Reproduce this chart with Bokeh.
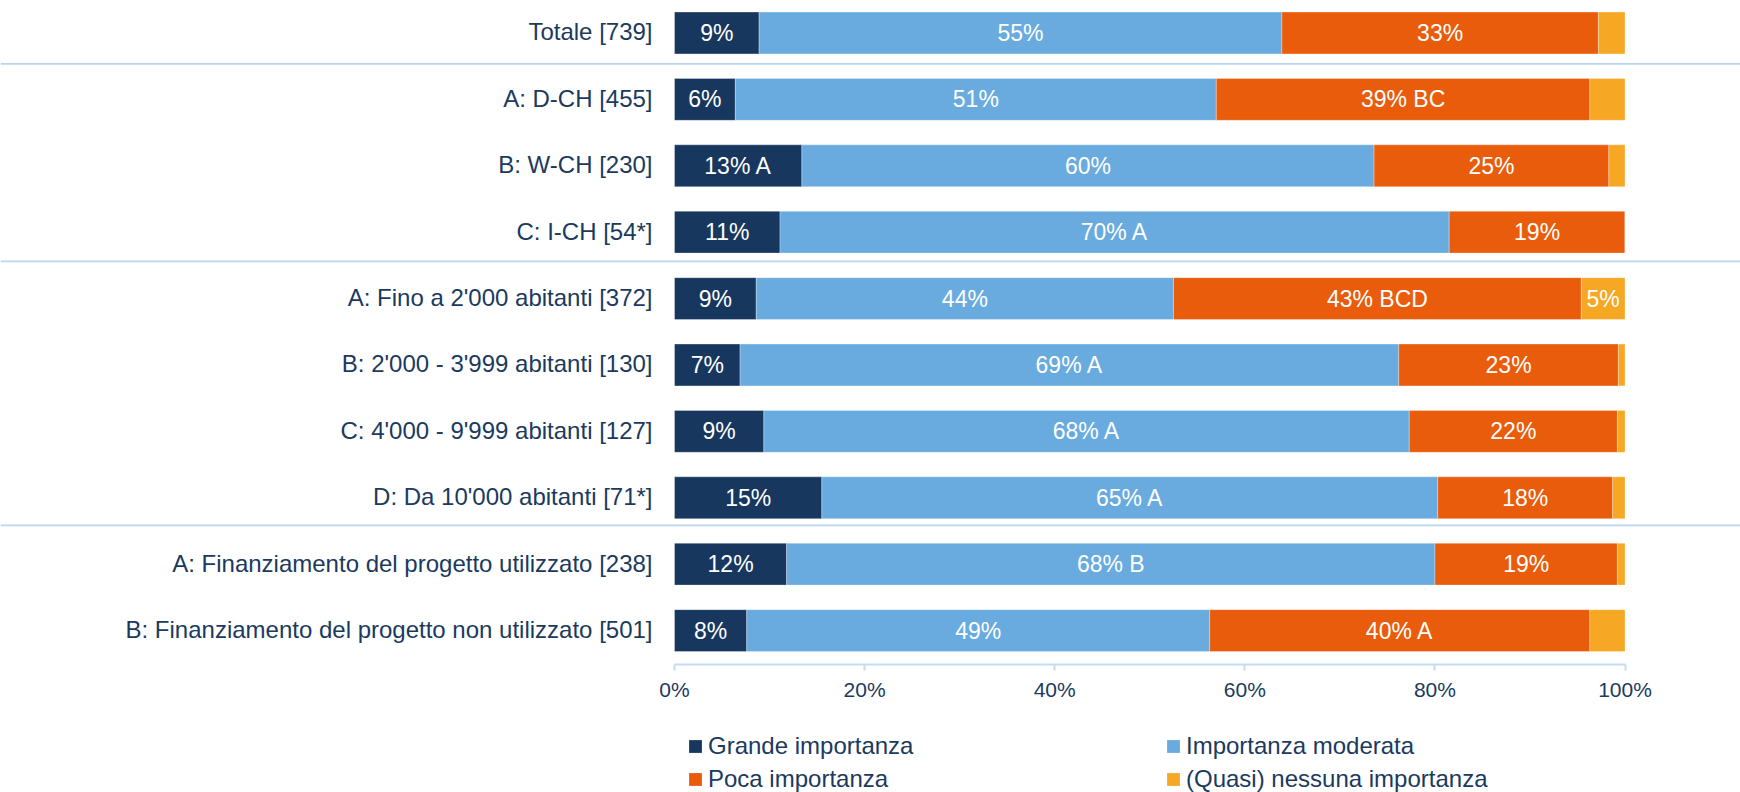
import numpy as np
from bokeh.plotting import figure
from bokeh.layouts import column
from bokeh.models import (ColumnDataSource, Range1d, LinearAxis, FixedTicker,
                          Legend, LegendItem, Span)
from bokeh.core.properties import value
from bokeh.embed import file_html
from bokeh.resources import INLINE

# ---------------- data ----------------
categories = [
    "Totale [739]",
    "A: D-CH [455]",
    "B: W-CH [230]",
    "C: I-CH [54*]",
    "A: Fino a 2'000 abitanti [372]",
    "B: 2'000 - 3'999 abitanti [130]",
    "C: 4'000 - 9'999 abitanti [127]",
    "D: Da 10'000 abitanti [71*]",
    "A: Finanziamento del progetto utilizzato [238]",
    "B: Finanziamento del progetto non utilizzato [501]",
]
series_names = ["Grande importanza", "Importanza moderata",
                "Poca importanza", "(Quasi) nessuna importanza"]

grande = [8.9, 6.4, 13.4, 11.1, 8.6, 6.9, 9.4, 15.5, 11.8, 7.6]
moderata = [55.0, 50.6, 60.2, 70.4, 43.9, 69.3, 67.9, 64.8, 68.2, 48.7]
poca = [33.3, 39.3, 24.7, 18.5, 42.9, 23.1, 21.9, 18.4, 19.2, 40.0]
nessuna = [2.8, 3.7, 1.7, 0.0, 4.6, 0.7, 0.8, 1.3, 0.8, 3.7]

labels_grande = ["9%", "6%", "13% A", "11%", "9%", "7%", "9%", "15%", "12%", "8%"]
labels_moderata = ["55%", "51%", "60%", "70% A", "44%", "69% A", "68% A", "65% A", "68% B", "49%"]
labels_poca = ["33%", "39% BC", "25%", "19%", "43% BCD", "23%", "22%", "18%", "19%", "40% A"]
labels_nessuna = ["", "", "", "", "5%", "", "", "", "", ""]

tick_values = [0, 20, 40, 60, 80, 100]
tick_labels = ["0%", "20%", "40%", "60%", "80%", "100%"]

# ---------------- style ----------------
colors = ["#17375e", "#69abdf", "#e95c0c", "#f6a724"]
text_navy = "#1b3a5e"
sep_color = "#b9d5ee"
FONT = value("Liberation Sans")

series = [grande, moderata, poca, nessuna]
series_labels = [labels_grande, labels_moderata, labels_poca, labels_nessuna]

n = len(categories)
ys = list(range(n))

p = figure(width=1740, height=704,
           x_range=Range1d(-70.91, 112.15), y_range=Range1d(9.511, -0.489),
           output_backend="svg", toolbar_location=None,
           x_axis_location=None, y_axis_location=None,
           min_border_left=0, min_border_right=0, min_border_top=0,
           min_border_bottom=40)
p.outline_line_color = None
p.background_fill_color = "white"
p.grid.grid_line_color = None

# separators between groups (drawn across full width)
for yy in [0.465, 3.44, 7.415]:
    p.add_layout(Span(location=yy, dimension="width", line_color=sep_color,
                      line_width=1.6))

left = np.zeros(n)
for k, vals in enumerate(series):
    vals = np.array(vals, dtype=float)
    right = left + vals
    src = ColumnDataSource(dict(y=ys, left=left.copy(), right=right,
                                xc=(left + right) / 2.0, lab=series_labels[k]))
    p.hbar(y="y", left="left", right="right", height=0.63, source=src,
           fill_color=colors[k], line_color="white", line_alpha=0.3,
           line_width=1)
    p.text(x="xc", y="y", text="lab", source=src, text_color="white",
           text_font=FONT, text_font_size="23px", text_align="center",
           text_baseline="middle")
    left = right

# category labels
cat_src = ColumnDataSource(dict(x=[0] * n, y=ys, t=categories))
p.text(x="x", y="y", text="t", source=cat_src, x_offset=-22, y_offset=-1,
       text_align="right", text_baseline="middle", text_font=FONT,
       text_font_size="24px", text_color=text_navy)

# x axis
ax = LinearAxis(ticker=FixedTicker(ticks=tick_values),
                major_label_overrides={float(v): l for v, l in zip(tick_values, tick_labels)},
                bounds=(0, 100))
ax.axis_line_color = "#c3dbf0"
ax.axis_line_width = 2
ax.major_tick_line_color = "#c3dbf0"
ax.major_tick_line_width = 2
ax.major_tick_in = 0
ax.major_tick_out = 6
ax.minor_tick_line_color = None
ax.major_label_text_font = "Liberation Sans"
ax.major_label_text_font_size = "21px"
ax.major_label_text_color = text_navy
ax.major_label_standoff = 7
p.add_layout(ax, "below")

# ---------------- legend figure ----------------
p2 = figure(width=1740, height=88, x_range=Range1d(0, 1), y_range=Range1d(0, 1),
            output_backend="svg", toolbar_location=None,
            x_axis_location=None, y_axis_location=None,
            min_border_left=0, min_border_right=0, min_border_top=0,
            min_border_bottom=0)
p2.outline_line_color = None
p2.grid.grid_line_color = None
leg_renderers = []
for k in range(4):
    # swatch renderers kept outside the visible range; used only by the legend
    r = p2.hbar(y=[-10], left=[0], right=[0.1], height=0.5, fill_color=colors[k],
                line_color=None)
    leg_renderers.append(r)

items = [LegendItem(label=series_names[k], renderers=[leg_renderers[k]]) for k in range(4)]
legend = Legend(items=items, location=(687, -1), orientation="horizontal", ncols=2,
                glyph_width=16, glyph_height=16, label_standoff=5,
                label_width=452, label_height=26, spacing=5, padding=0, margin=0,
                border_line_color=None, background_fill_alpha=0,
                label_text_font="Liberation Sans", label_text_font_size="24px",
                label_text_color=text_navy)
p2.add_layout(legend)

layout = column(p, p2, spacing=0)
open("out.html", "w").write(file_html(layout, INLINE))
